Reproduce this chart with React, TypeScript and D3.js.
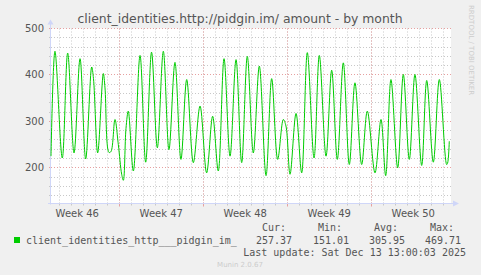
import React from "react";
import * as d3 from "d3";

// ---- data ----
// time in days since the left edge of the plot, value = amount
const dayOffsets = [
  0.0, 0.33, 0.94, 1.39, 1.92, 2.42, 2.89, 3.39, 3.54, 3.89, 4.36, 4.5, 4.83, 5.0, 5.33, 5.61,
  5.89, 6.03, 6.25, 6.44, 6.86, 7.42, 7.89, 8.38, 8.86, 9.36, 9.83, 10.33, 10.83, 11.31, 11.86,
  12.42, 12.97, 13.47, 13.94, 14.42, 14.92, 15.42, 15.89, 16.36, 16.86, 17.36, 17.92, 18.39,
  18.89, 19.36, 19.58, 19.92, 20.42, 20.89, 21.36, 21.92, 22.36, 22.92, 23.39, 23.86, 24.36,
  24.86, 25.33, 25.89, 26.36, 27.0, 27.5, 27.89, 28.33, 28.89, 29.36, 29.86, 30.33, 30.89,
  31.31, 31.86, 32.36, 32.97, 33.05, 33.19,
];
const amounts = [
  225, 451, 221, 447, 232, 435, 219, 417, 392, 232, 403, 372, 233, 235, 304, 250,
  186, 173, 285, 322, 193, 442, 212, 449, 243, 451, 239, 427, 218, 390, 211,
  333, 189, 311, 193, 435, 225, 433, 211, 440, 232, 419, 183, 392,
  218, 304, 290, 186, 317, 189, 448, 221, 442, 225, 410, 218, 426,
  207, 383, 207, 322, 189, 304, 183, 390, 200, 401, 218, 401, 205,
  388, 212, 390, 207, 210, 257,
];
const yTicks = [200, 300, 400, 500];
const weekLabels = ["Week 46", "Week 47", "Week 48", "Week 49", "Week 50"];
const seriesName = "client_identities_http___pidgin_im_";
const statHeaders = ["Cur:", "Min:", "Avg:", "Max:"];
const statValues = ["257.37", "151.01", "305.95", "469.71"];
const title = "client_identities.http://pidgin.im/ amount - by month";
const lastUpdate = "Last update: Sat Dec 13 13:00:03 2025";

// time frame
const startMs = Date.UTC(2025, 10, 16) - 5.69 * 86400000;
const spanDays = 400 / 12;
const endMs = startMs + spanDays * 86400000;

export default function App() {
  const W = 481, H = 275;
  const L = 51, R = 451, T = 28.5, B = 203.5;
  const x = d3.scaleUtc().domain([new Date(startMs), new Date(endMs)]).range([L, R]);
  const y = d3.scaleLinear().domain([123, 500]).range([B, T]);

  const pts = dayOffsets.map((d, i) => ({ t: new Date(startMs + d * 86400000), v: amounts[i] }));
  const line = d3.line<{ t: Date; v: number }>().x(p => x(p.t)).y(p => y(p.v)).curve(d3.curveCatmullRom.alpha(0.5));

  const days = d3.utcDay.range(new Date(startMs), new Date(endMs));
  const sundays = d3.utcSunday.range(new Date(startMs), new Date(endMs));
  const firstSunday = d3.utcSunday.floor(new Date(startMs));
  const weekStarts = d3.utcSunday.range(firstSunday, new Date(endMs));

  const minorY = d3.range(140, 501, 20).filter(v => v % 100 !== 0);
  const px = (v: number) => Math.floor(v) + 0.5;

  const font = "'DejaVu Sans', sans-serif";
  const mono = "'DejaVu Sans Mono', monospace";
  const minorColor = "#c8c8c8";
  const majorColor = "#e6a0a0";
  const axisColor = "#cfd6f8";

  const headerEnds = [286, 342, 398, 454];
  const valueEnds = [292, 349, 405, 461];

  return (
    <svg width={W} height={H} style={{ position: "absolute", left: 0, top: 0, display: "block" }}>
      <rect x={0} y={0} width={W} height={H} fill="#f0f0f0" />
      <rect x={L} y={T} width={R - L} height={B - T} fill="#ffffff" />
      {/* minor horizontal grid */}
      {minorY.map(v => (
        <g key={"my" + v}>
          <line x1={L} x2={R} y1={px(y(v))} y2={px(y(v))} stroke={minorColor} strokeDasharray="1,2" />
          <line x1={L - 2} x2={L} y1={px(y(v))} y2={px(y(v))} stroke={minorColor} />
        </g>
      ))}
      {/* minor vertical grid */}
      {days.map((d, i) => (
        <g key={"dx" + i}>
          <line x1={px(x(d))} x2={px(x(d))} y1={T} y2={B} stroke={minorColor} strokeDasharray="1,2" />
          <line x1={px(x(d))} x2={px(x(d))} y1={B} y2={B + 2} stroke={minorColor} />
        </g>
      ))}
      {/* major grid */}
      {yTicks.map(v => (
        <g key={"My" + v}>
          <line x1={L} x2={R} y1={px(y(v))} y2={px(y(v))} stroke={majorColor} strokeDasharray="1,2" />
          <line x1={L - 2} x2={L} y1={px(y(v))} y2={px(y(v))} stroke={majorColor} />
          <text x={44} y={y(v) + 3.5} textAnchor="end" fontFamily={font} fontSize={10} fill="#555">{v}</text>
        </g>
      ))}
      {sundays.map((d, i) => (
        <g key={"wx" + i}>
          <line x1={px(x(d))} x2={px(x(d))} y1={T} y2={B} stroke={majorColor} strokeDasharray="1,2" />
          <line x1={px(x(d))} x2={px(x(d))} y1={B} y2={B + 3} stroke={majorColor} />
        </g>
      ))}
      {weekStarts.map((d, i) => (
        <text key={"wl" + i} x={x(new Date(+d + 3.5 * 86400000))} y={217} textAnchor="middle"
          fontFamily={font} fontSize={10} fill="#555">{weekLabels[i]}</text>
      ))}
      {/* axes */}
      <line x1={L - 0.5} x2={L - 0.5} y1={B + 1} y2={T - 6} stroke={axisColor} />
      <path d={`M${L - 3.5},${T - 4} L${L - 0.5},${T - 9} L${L + 2.5},${T - 4} Z`} fill={axisColor} />
      <line x1={L - 3} x2={R + 4} y1={B} y2={B} stroke={axisColor} />
      <path d={`M${R + 2},${B - 3} L${R + 8},${B} L${R + 2},${B + 3} Z`} fill={axisColor} />
      {/* series */}
      <path d={line(pts) || ""} fill="none" stroke="#00cc00" strokeWidth={1} />
      {/* title */}
      <text x={240} y={23} textAnchor="middle" fontFamily={font} fontSize={12.4} fill="#555">{title}</text>
      {/* side text */}
      <text transform="translate(469,5) rotate(90)" fontFamily={font} fontSize={7} fill="#ccc">RRDTOOL / TOBI OETIKER</text>
      {/* legend */}
      <rect x={14} y={237} width={6} height={6} fill="#00cc00" />
      <text x={26} y={244} fontFamily={mono} fontSize={10} fill="#555">{seriesName}</text>
      {statHeaders.map((h, i) => (
        <text key={"h" + i} x={headerEnds[i]} y={231} textAnchor="end" fontFamily={mono} fontSize={10} fill="#555">{h}</text>
      ))}
      {statValues.map((s, i) => (
        <text key={"v" + i} x={valueEnds[i]} y={244} textAnchor="end" fontFamily={mono} fontSize={10} fill="#555">{s}</text>
      ))}
      <text x={466} y={256} textAnchor="end" fontFamily={mono} fontSize={10} fill="#555">{lastUpdate}</text>
      <text x={240} y={267} textAnchor="middle" fontFamily={font} fontSize={7} fill="#ccc">Munin 2.0.67</text>
    </svg>
  );
}
